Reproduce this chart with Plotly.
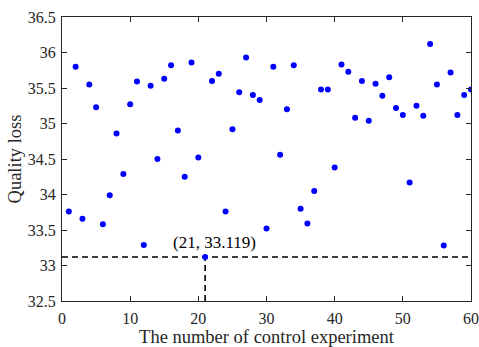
import plotly.graph_objects as go

experiments = list(range(1, 61))
quality_loss = [
    33.76, 35.80, 33.66, 35.55, 35.23, 33.58, 33.99, 34.86, 34.29, 35.27,
    35.59, 33.29, 35.53, 34.50, 35.63, 35.82, 34.90, 34.25, 35.86, 34.52,
    33.119, 35.60, 35.70, 33.76, 34.92, 35.44, 35.93, 35.40, 35.33, 33.52,
    35.80, 34.56, 35.20, 35.82, 33.80, 33.59, 34.05, 35.48, 35.48, 34.38,
    35.83, 35.73, 35.08, 35.60, 35.04, 35.56, 35.39, 35.65, 35.22, 35.12,
    34.17, 35.25, 35.11, 36.12, 35.55, 33.28, 35.72, 35.12, 35.40, 35.48,
]
best_x = 21
best_y = 33.119
x_range = [0, 60]
y_range = [32.5, 36.5]
x_ticks = [0, 10, 20, 30, 40, 50, 60]
y_ticks = [32.5, 33, 33.5, 34, 34.5, 35, 35.5, 36, 36.5]

FONT = "Liberation Serif"
AX = "#262626"

fig = go.Figure()
fig.add_trace(go.Scatter(
    x=[x_range[0], x_range[1]], y=[best_y, best_y], mode="lines",
    line=dict(color="black", width=1.6, dash="6px,4px"), hoverinfo="skip",
))
fig.add_trace(go.Scatter(
    x=[best_x, best_x], y=[y_range[0], best_y], mode="lines",
    line=dict(color="black", width=1.6, dash="6px,4px"), hoverinfo="skip",
))
fig.add_trace(go.Scatter(
    x=experiments, y=quality_loss, mode="markers",
    marker=dict(color="#0000ff", size=6, line=dict(width=0)),
))

fig.add_annotation(
    x=22.3, y=33.32, xref="x", yref="y", text=f"({best_x}, {best_y})",
    showarrow=False, font=dict(family=FONT, size=17, color="black"),
)

axis_common = dict(
    showline=True, linecolor=AX, linewidth=1, mirror="ticks",
    ticks="inside", ticklen=5, tickcolor=AX, tickwidth=1,
    showgrid=False, zeroline=False,
    tickfont=dict(family=FONT, size=16, color=AX),
)
fig.update_xaxes(
    range=x_range, tickvals=x_ticks, **axis_common,
    title=dict(text="The number of control experiment",
               font=dict(family=FONT, size=18.5, color=AX), standoff=6),
    ticklabelstandoff=3,
)
fig.update_yaxes(
    range=y_range, tickvals=y_ticks, ticktext=[f"{v:g}" for v in y_ticks], **axis_common,
    title=dict(text="Quality loss",
               font=dict(family=FONT, size=18.5, color=AX), standoff=1),
    ticklabelstandoff=2,
)
fig.update_layout(
    width=479, height=347, showlegend=False,
    margin=dict(l=62, r=8, t=17, b=46, autoexpand=False),
    plot_bgcolor="white", paper_bgcolor="white",
)
fig.write_html("out.html")
